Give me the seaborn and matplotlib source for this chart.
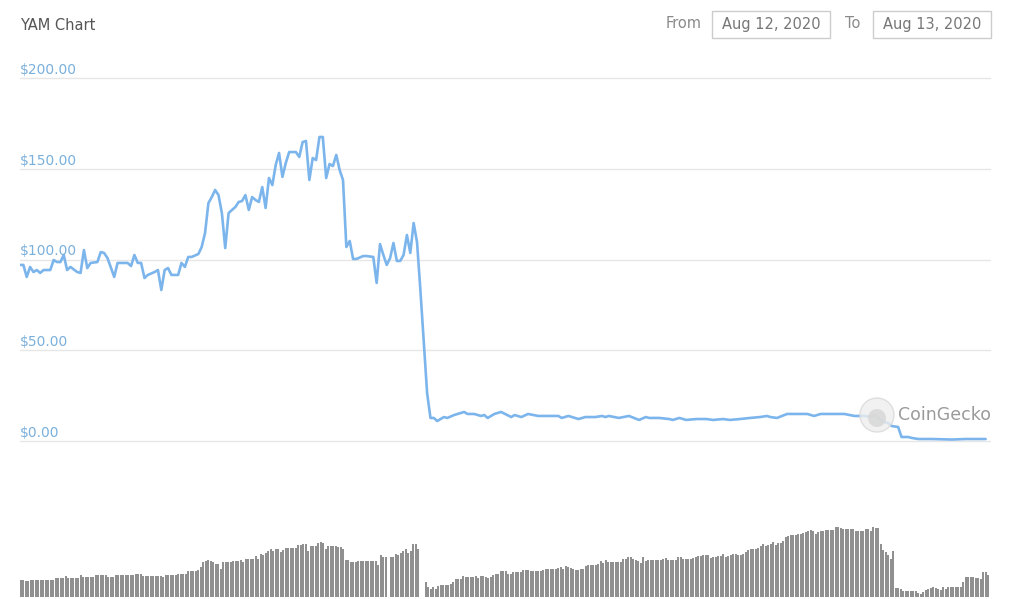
import matplotlib
matplotlib.use("Agg")
import matplotlib.pyplot as plt
from matplotlib.patches import Ellipse, Rectangle
import matplotlib.transforms as mtransforms
import seaborn as sns

# price of YAM, 5-minute steps since 00:00 (Aug 12 -> Aug 13, 2020)
price_steps = [0, 1, 2, 3, 4, 5, 6, 7, 9, 10, 11, 12, 13, 14, 15, 17, 18, 19, 20, 21,
               23, 24, 25, 26, 28, 29, 30, 32, 33, 34, 35, 36, 37, 38, 40, 41, 42, 43, 44, 45,
               47, 48, 49, 50, 51, 53, 54, 55, 56, 57, 58, 59, 60, 61, 62, 63, 64, 65, 66, 67,
               68, 69, 70, 71, 72, 73, 74, 75, 76, 77, 78, 79, 80, 82, 83, 84, 85, 86, 87, 88,
               89, 90, 91, 92, 93, 94, 95, 96, 97, 98, 99, 100, 102, 103, 105, 106, 107, 108, 109, 110,
               111, 112, 113, 114, 115, 116, 117, 118, 119, 121, 122, 123, 124, 126, 127, 129, 132, 133, 135, 137,
               138, 139, 141, 143, 146, 147, 149, 151, 154, 157, 160, 161, 163, 166, 168, 171, 173, 174, 175, 178,
               181, 184, 186, 187, 190, 193, 194, 196, 198, 201, 204, 206, 209, 211, 214, 217, 220, 222, 223, 225,
               228, 231, 234, 236, 238, 242, 245, 248, 251, 253, 254, 255, 256, 258, 259, 261, 262, 264, 265, 267,
               271, 277, 281, 287]

price = [97.0, 97.0, 90.4, 95.9, 93.1, 94.2, 92.6, 94.2, 94.2, 99.7,
         98.6, 98.6, 102.5, 94.2, 95.9, 93.1, 92.6, 105.2, 95.3, 98.1,
         98.6, 104.1, 103.6, 100.8, 90.4, 98.1, 98.1, 98.1, 96.4, 102.5,
         98.1, 98.1, 89.8, 91.5, 93.1, 94.2, 83.2, 94.2, 95.3, 91.5,
         91.5, 98.1, 95.9, 101.4, 101.4, 103.0, 106.9, 114.6, 131.1, 134.4,
         138.3, 135.5, 125.6, 106.3, 125.6, 127.3, 128.9, 131.7, 132.2, 135.5,
         127.3, 134.4, 132.8, 131.7, 139.9, 128.4, 144.9, 141.0, 152.1, 158.7,
         145.5, 153.2, 159.2, 159.2, 156.5, 164.7, 165.3, 143.8, 155.9, 154.8,
         167.5, 167.5, 144.9, 152.6, 151.5, 157.6, 149.3, 143.8, 106.9, 110.2,
         100.3, 100.3, 101.9, 101.9, 101.4, 87.1, 108.5, 102.5, 97.0, 100.8,
         109.1, 99.2, 99.2, 102.5, 113.5, 103.6, 120.1, 109.6, 83.2, 26.4,
         12.7, 12.7, 11.0, 13.2, 12.7, 14.3, 16.0, 14.9, 14.9, 13.8,
         14.3, 12.7, 14.9, 16.0, 13.2, 14.3, 13.2, 14.9, 13.8, 13.8,
         13.8, 12.7, 13.8, 12.1, 13.2, 13.2, 13.8, 13.2, 13.8, 12.7,
         13.8, 11.6, 13.2, 12.7, 12.7, 12.1, 11.6, 12.7, 11.6, 12.1,
         12.1, 11.6, 12.1, 11.6, 12.1, 12.7, 13.2, 13.8, 13.2, 12.7,
         14.9, 14.9, 14.9, 13.8, 14.9, 14.9, 14.9, 13.8, 13.8, 13.2,
         14.3, 13.2, 11.0, 9.9, 8.3, 7.7, 2.2, 2.2, 1.7, 1.1,
         1.1, 0.8, 1.1, 1.1]

# trading volume (relative units), one bar per interval
volume = [17, 17, 16, 16, 17, 17, 17, 17, 17, 17, 17, 17, 17, 17, 19, 19, 19, 19, 21, 19,
          19, 19, 19, 19, 22, 20, 20, 20, 20, 20, 22, 22, 22, 22, 22, 20, 20, 20, 22, 22,
          22, 22, 22, 22, 22, 22, 23, 23, 23, 21, 21, 21, 21, 21, 21, 21, 21, 20, 22, 22,
          22, 22, 22, 23, 23, 23, 23, 26, 26, 26, 26, 27, 30, 35, 36, 37, 36, 35, 33, 33,
          28, 35, 35, 35, 35, 36, 36, 36, 37, 35, 38, 38, 38, 38, 41, 38, 43, 42, 44, 46,
          48, 46, 48, 48, 45, 47, 49, 49, 49, 49, 49, 52, 52, 53, 53, 46, 51, 51, 51, 54,
          55, 54, 48, 51, 51, 51, 51, 50, 50, 48, 37, 37, 35, 35, 35, 36, 36, 36, 36, 36,
          36, 36, 36, 32, 42, 40, 40, 0, 40, 40, 43, 42, 44, 46, 48, 44, 46, 53, 53, 48,
          0, 0, 15, 10, 8, 10, 8, 11, 12, 12, 12, 12, 13, 15, 18, 18, 18, 21, 20, 20,
          20, 20, 21, 19, 21, 21, 20, 19, 20, 22, 23, 23,
          26, 26, 26, 23, 23, 25, 25, 25, 25, 27, 27, 27, 26, 26, 26, 26, 26, 27, 28, 28,
          28, 28, 28, 29, 30, 28, 31, 30, 29, 28, 27, 27, 28, 28, 31, 32, 32, 32, 32, 33,
          36, 34, 37, 35, 35, 35, 35, 35, 35, 38, 38, 40, 40, 38, 37, 36, 34, 40, 36, 37,
          37, 37, 37, 37, 37, 38, 39, 37, 37, 37, 37, 40, 40, 38, 38, 38, 38, 39, 40, 41,
          41, 42, 42, 42, 39, 40, 40, 41, 41, 43, 40, 41, 42, 43, 43, 42, 42, 43, 45, 47,
          48, 48, 48, 49, 51, 53, 51, 52, 53, 55, 52, 54, 54, 56, 60, 61, 62, 62, 62, 63,
          63, 64, 65, 66, 67, 66, 63, 65, 66, 66, 67, 67, 67, 67, 70, 70, 69, 68, 68, 68,
          68, 68, 66, 66, 66, 66, 68, 68, 66, 70, 69, 69, 53, 47, 45, 42, 38, 46, 9, 9,
          8, 6, 6, 6, 6, 6, 6, 4, 3, 5, 7, 8, 9, 10, 9, 8, 7, 10, 8, 10,
          10, 10, 10, 10, 10, 15, 20, 20, 20, 20, 19, 19, 18, 25, 25, 22]
volume_idx = list(range(len(volume)))

price_ticks = [0, 50, 100, 150, 200]
title = "YAM Chart"
date_from = "Aug 12, 2020"
date_to = "Aug 13, 2020"

sns.set_theme(style="white")
plt.rcParams["font.family"] = ["DejaVu Sans"]

W, H = 1009, 599
fig = plt.figure(figsize=(W / 100, H / 100), dpi=100)
fig.patch.set_facecolor("white")


def fx(px):
    return px / W


def fy(py):
    return 1 - py / H


# price panel: $0 at y=441px, $200 at y=78px
ax = fig.add_axes([fx(20), fy(441), 970 / W, 210 * 1.815 / H])
for v in price_ticks:
    ax.axhline(v, color="#e6e6e6", lw=1, zorder=0, clip_on=False)
sns.lineplot(x=price_steps, y=price, ax=ax, color="#7cb5ec", linewidth=1.9, zorder=3)
ax.set_xlim(0, 288.3)
ax.set_ylim(0, 210)
ax.set_axis_off()

trans = mtransforms.blended_transform_factory(ax.transAxes, ax.transData)
for v in price_ticks:
    ax.annotate(f"${v:.2f}", xy=(0, v), xycoords=trans, xytext=(0, 3),
                textcoords="offset points", ha="left", va="baseline",
                fontsize=10, color="#7ab0dc")

# volume panel
axv = fig.add_axes([fx(20), 2 / H, 970 / W, 77 / H])
sns.barplot(x=volume_idx, y=volume, ax=axv, color="#909090", width=0.62,
            saturation=1, errorbar=None, linewidth=0, edgecolor="none")
axv.set_xlim(-0.3, 387.7)
axv.set_ylim(0, 77)
axv.set_axis_off()

# header
fig.text(fx(20), fy(26), title, ha="left", va="center", fontsize=10.5, color="#555555")
fig.text(fx(684), fy(23), "From", ha="center", va="center", fontsize=10.5, color="#8a8a8a")
fig.text(fx(853), fy(23), "To", ha="center", va="center", fontsize=10.5, color="#8a8a8a")
for x0, x1, label in [(712, 830, date_from), (873, 991, date_to)]:
    fig.add_artist(Rectangle((fx(x0), fy(38)), (x1 - x0) / W, 27 / H,
                             transform=fig.transFigure, facecolor="white",
                             edgecolor="#cccccc", lw=1))
    fig.text(fx((x0 + x1) / 2), fy(24), label, ha="center", va="center",
             fontsize=10.5, color="#777777")

# watermark
fig.add_artist(Ellipse((fx(877), fy(415)), 34 / W, 34 / H, transform=fig.transFigure,
                       facecolor="#eeeeee", edgecolor="#d8d8d8", lw=1, alpha=0.8, zorder=5))
fig.add_artist(Ellipse((fx(877), fy(418)), 18 / W, 18 / H, transform=fig.transFigure,
                       facecolor="#d6d6d6", edgecolor="none", alpha=0.8, zorder=5))
fig.text(fx(898), fy(415), "CoinGecko", ha="left", va="center", fontsize=12.5,
         color="#9a9a9a", zorder=6)

fig.savefig("out.png", dpi=100, facecolor="white")
